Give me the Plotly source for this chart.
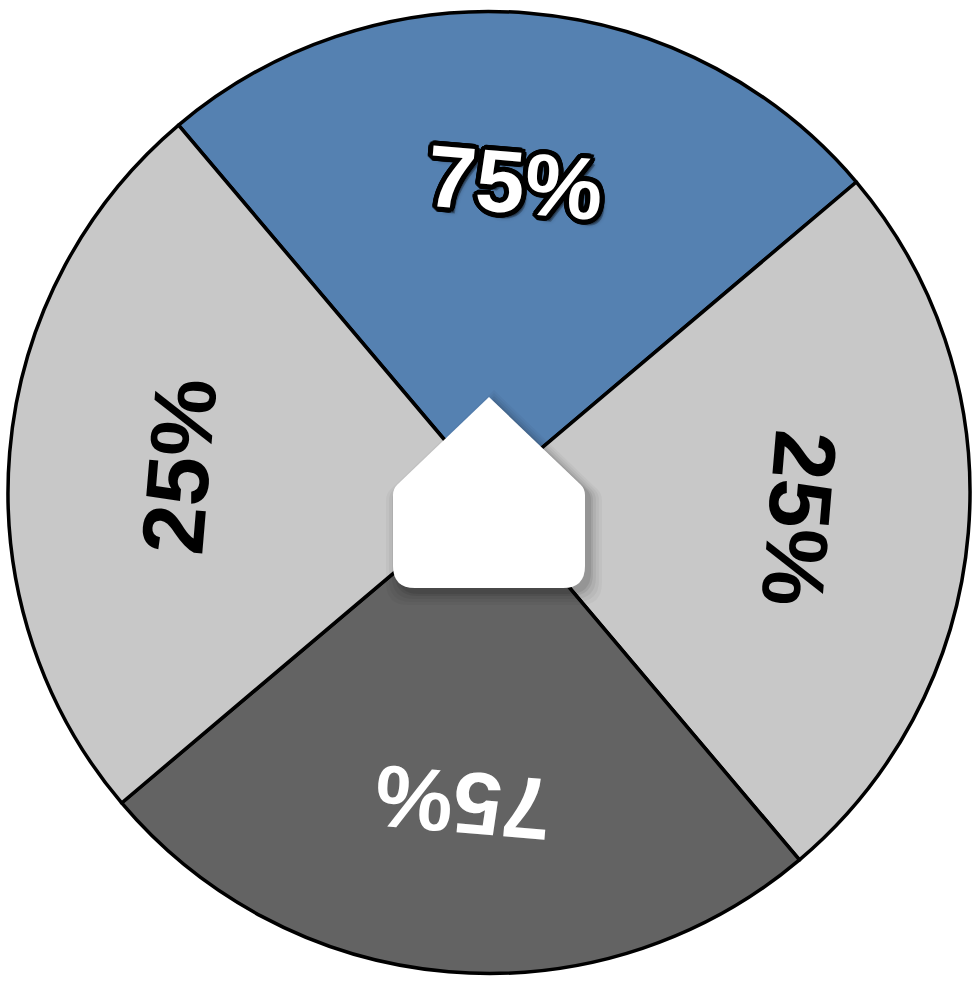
import math
import plotly.graph_objects as go

# ---- data ----
slice_labels = ["75%", "25%", "75%", "25%"]   # clockwise from the blue slice
slice_weights = [1, 1, 1, 1]
start_angle = -40.2  # degrees clockwise from 12 o'clock where first slice begins

# ---- style ----
slice_colors = ["#5581b1", "#c8c8c8", "#636363", "#c8c8c8"]
label_colors = ["#ffffff", "#000000", "#ffffff", "#000000"]
label_outlined = [True, False, False, False]
W, H = 980, 982
CX, CY, R = 489.0, 492.5, 481.0
LABEL_R = 0.647
FONT = "Liberation Sans, Arial, sans-serif"
FSIZE = 88

fig = go.Figure()
fig.add_trace(go.Pie(
    labels=[f"s{i}" for i in range(len(slice_weights))],
    values=slice_weights,
    sort=False,
    direction="clockwise",
    rotation=start_angle,
    marker=dict(colors=slice_colors, line=dict(color="#000000", width=3.5)),
    textinfo="none",
    hoverinfo="skip",
    showlegend=False,
    domain=dict(x=[(CX - R) / W, (CX + R) / W], y=[1 - (CY + R) / H, 1 - (CY - R) / H]),
))

def px2paper(x, y):
    return x / W, 1 - y / H

total = sum(slice_weights)
cum = 0
annotations = []
for lab, w, col, outl in zip(slice_labels, slice_weights, label_colors, label_outlined):
    mid = start_angle + (cum + w / 2) / total * 360.0
    cum += w
    t = math.radians(mid)
    x = CX + LABEL_R * R * math.sin(t)
    y = CY - LABEL_R * R * math.cos(t)
    xp, yp = px2paper(x, y)
    base = dict(x=xp, y=yp, xref="paper", yref="paper", text=lab, showarrow=False,
                xanchor="center", yanchor="middle", textangle=mid)
    if outl:
        # soft drop shadow
        for sx, sy, op in [(5, -6, 0.25), (4, -5, 0.3)]:
            annotations.append(dict(base, xshift=sx, yshift=sy,
                                    font=dict(family=FONT, size=FSIZE, weight="bold",
                                              color=f"rgba(0,0,0,{op})",
                                              shadow="0px 0px 4px rgba(0,0,0,0.5)")))
        for k in range(24):
            a = 2 * math.pi * k / 24
            for rr in (3, 5):
                annotations.append(dict(base, xshift=rr * math.cos(a), yshift=rr * math.sin(a),
                                        font=dict(family=FONT, size=FSIZE, weight="bold",
                                                  color="#000000")))
    annotations.append(dict(base, font=dict(family=FONT, size=FSIZE, weight="bold", color=col)))

# centre pointer (house shape)
def house_path(dx=0.0, dy=0.0, grow=0.0):
    L, Rr = 393 - grow + dx, 585 + grow + dx
    tipx, tipy = 489 + dx, 397 - grow + dy
    sh = 489 + dy
    bot = 588 + grow + dy
    rc = 22
    rs = 6
    def P(x, y):
        a, b = px2paper(x, y)
        return f"{a:.5f},{b:.5f}"
    path = f"M {P(tipx, tipy)} "
    path += f"L {P(Rr - rs*0.7, sh - rs*0.7)} Q {P(Rr, sh)} {P(Rr, sh + rs)} "
    path += f"L {P(Rr, bot - rc)} Q {P(Rr, bot)} {P(Rr - rc, bot)} "
    path += f"L {P(L + rc, bot)} Q {P(L, bot)} {P(L, bot - rc)} "
    path += f"L {P(L, sh + rs)} Q {P(L, sh)} {P(L + rs*0.7, sh - rs*0.7)} Z"
    return path

shapes = []
for g, op in [(12, 0.03), (9, 0.04), (6, 0.05), (3, 0.07), (1, 0.08)]:
    shapes.append(dict(type="path", xref="paper", yref="paper", path=house_path(5, 5, g),
                       fillcolor=f"rgba(0,0,0,{op})", line=dict(width=0), layer="above"))
shapes.append(dict(type="path", xref="paper", yref="paper", path=house_path(),
                   fillcolor="#ffffff", line=dict(width=0), layer="above"))

fig.update_layout(
    width=W, height=H,
    margin=dict(l=0, r=0, t=0, b=0),
    paper_bgcolor="#ffffff",
    plot_bgcolor="#ffffff",
    annotations=annotations,
    shapes=shapes,
)
fig.write_html("out.html")
